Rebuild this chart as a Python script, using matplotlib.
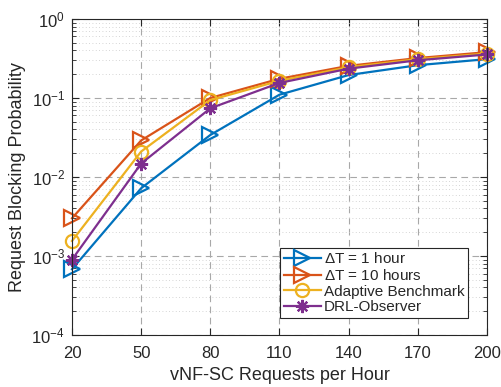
import matplotlib
matplotlib.use("Agg")
import matplotlib.pyplot as plt
import matplotlib.ticker as ticker

requests = [20, 50, 80, 110, 140, 170, 200]
dt_1h = [6.8e-4, 7.2e-3, 0.034, 0.11, 0.195, 0.26, 0.31]
dt_10h = [3.0e-3, 0.029, 0.10, 0.175, 0.255, 0.32, 0.38]
adaptive = [1.55e-3, 0.021, 0.094, 0.165, 0.245, 0.31, 0.365]
drl_observer = [9.0e-4, 0.0148, 0.074, 0.155, 0.235, 0.30, 0.355]

TXT = "#262626"
plt.rcParams["font.family"] = ["Liberation Sans", "DejaVu Sans"]
plt.rcParams["text.color"] = TXT
plt.rcParams["axes.labelcolor"] = TXT
plt.rcParams["xtick.color"] = TXT
plt.rcParams["ytick.color"] = TXT
plt.rcParams["mathtext.fontset"] = "custom"
plt.rcParams["mathtext.rm"] = "Liberation Sans"

fig = plt.figure(figsize=(5.02, 3.87), dpi=100)
ax = fig.add_axes([0.1434, 0.1344, 0.8266, 0.8166])

lw = 1.6
common = dict(lw=lw, mew=1.6, clip_on=False)
ax.plot(requests, dt_1h, color="#0072BD", marker=">", ms=11,
        mfc="none", label=r"$\Delta$T = 1 hour", **common)
ax.plot(requests, dt_10h, color="#D95319", marker=">", ms=11,
        mfc="none", label=r"$\Delta$T = 10 hours", **common)
ax.plot(requests, adaptive, color="#EDB120", marker="o", ms=9.5,
        mfc="none", label="Adaptive Benchmark", **common)
ax.plot(requests, drl_observer, color="#7E2F8E", marker=(8, 2, 0), ms=9.5,
        label="DRL-Observer", **common)

ax.set_yscale("log")
ax.set_xlim(20, 200)
ax.set_ylim(1e-4, 1)
ax.set_xticks(requests)
ax.yaxis.set_major_locator(ticker.LogLocator(base=10, numticks=10))
ax.yaxis.set_minor_locator(ticker.LogLocator(base=10, subs=range(2, 10), numticks=20))
ax.yaxis.set_minor_formatter(ticker.NullFormatter())

ax.grid(True, which="major", ls=(0, (6, 4)), color="#a8a8a8", lw=0.8)
ax.grid(True, which="minor", axis="y", ls=(0, (1, 3)), color="#c8c8c8", lw=0.6)
ax.set_axisbelow(True)

ax.tick_params(which="both", direction="in", top=True, right=True, labelsize=12)
ax.tick_params(which="major", length=5)
ax.tick_params(which="minor", length=3)
ax.tick_params(axis="x", pad=8)
ax.tick_params(axis="y", pad=5)
for s in ax.spines.values():
    s.set_color(TXT)
    s.set_linewidth(0.8)

ax.set_xlabel("vNF-SC Requests per Hour", fontsize=13, labelpad=4)
ax.set_ylabel("Request Blocking Probability", fontsize=13, labelpad=4)

leg = ax.legend(loc="lower right", bbox_to_anchor=(0.973, 0.03), fontsize=11,
                handlelength=2.4, handletextpad=0.2, borderpad=0.25,
                labelspacing=0.1, fancybox=False, framealpha=1, edgecolor=TXT)
leg.get_frame().set_linewidth(0.8)

fig.savefig("out.png", dpi=100)
